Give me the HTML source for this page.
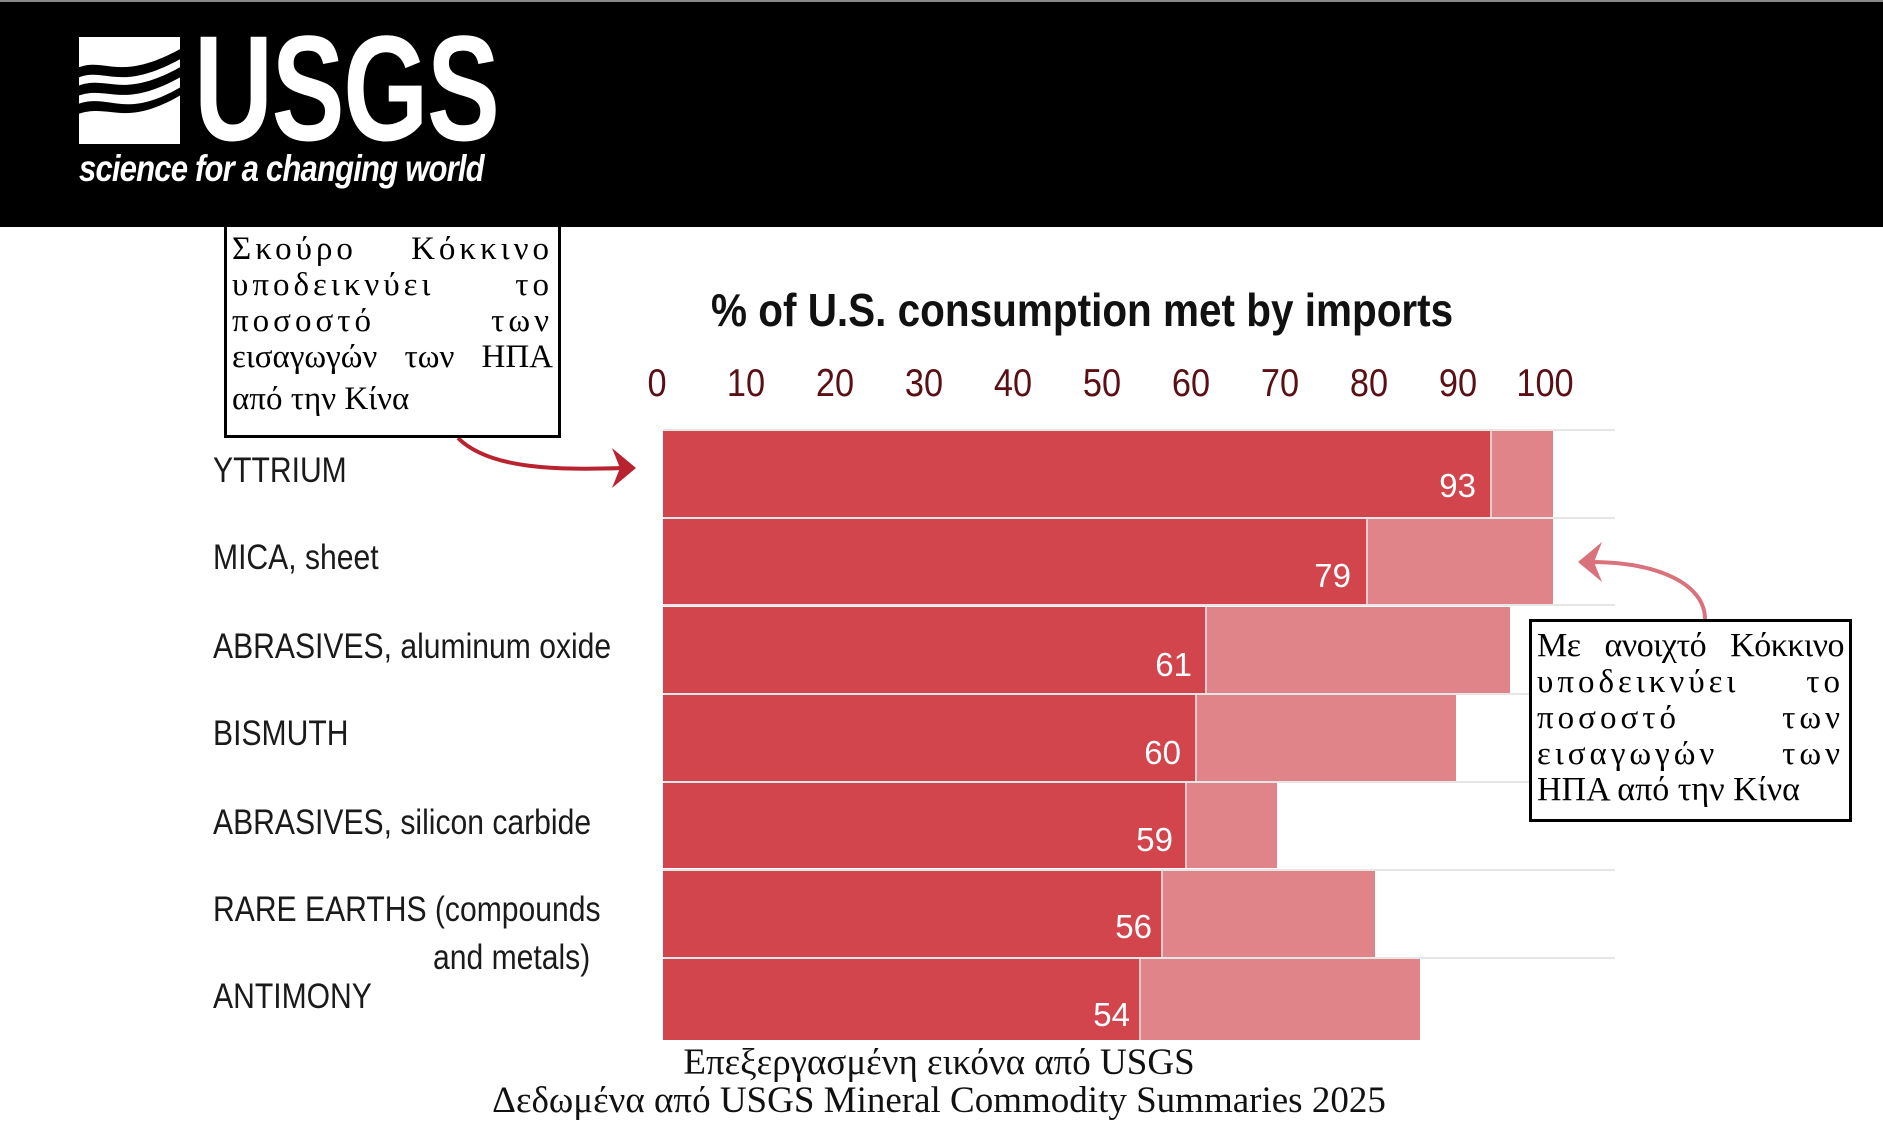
<!DOCTYPE html>
<html><head><meta charset="utf-8"><style>
*{margin:0;padding:0;box-sizing:border-box}
body{width:1883px;height:1125px;background:#fff;position:relative;overflow:hidden;font-family:"Liberation Sans",sans-serif}
.abs{position:absolute}
.sx{display:inline-block;transform-origin:0 0;white-space:nowrap}
.box{position:absolute;border:3px solid #000;background:#fff;font-family:"Liberation Serif","DejaVu Serif",serif;color:#000;font-size:33px;line-height:36px;text-align:justify;padding:2px 5px}
.tick{position:absolute;top:362px;width:80px;margin-left:-40px;text-align:center;color:#5a0f14;font-size:39px;transform:scaleX(0.88)}
.cat{position:absolute;left:213px;font-size:35px;color:#1a1a1a;line-height:40px;transform:scaleX(0.86);transform-origin:0 0;white-space:nowrap}
.val{position:absolute;color:#fff;font-size:33px;text-align:right;width:80px}
</style></head><body>
<div class="abs" style="left:0;top:0;width:1883px;height:227px;background:#000"></div>
<div class="abs" style="left:0;top:0;width:1883px;height:2px;background:#888"></div>
<svg class="abs" style="left:79px;top:37px" width="101" height="107" viewBox="0 0 76 106" preserveAspectRatio="none">
<rect width="76" height="106" fill="#fff"/>
<path d="M0 30 C20 20 30 45 76 12 L76 22 C30 55 20 30 0 40Z M0 48 C22 38 32 62 76 30 L76 40 C32 72 22 48 0 58Z M0 66 C24 56 34 82 76 50 L76 58 C34 90 24 66 0 76Z" fill="#000"/>
</svg>
<div class="abs" style="left:194px;top:18px;font-size:150px;font-weight:bold;color:#fff;line-height:140px;letter-spacing:-2px"><span class="sx" style="transform:scaleX(0.73)">USGS</span></div>
<div class="abs" style="left:79px;top:148px;font-size:37px;font-weight:bold;font-style:italic;color:#fff;letter-spacing:-1px"><span class="sx" style="transform:scaleX(0.84)">science for a changing world</span></div>

<div class="abs" style="left:711px;top:283px;font-size:46px;font-weight:bold;color:#111"><span class="sx" style="transform:scaleX(0.88)">% of U.S. consumption met by imports</span></div>
<div class="tick" style="left:657px">0</div>
<div class="tick" style="left:746px">10</div>
<div class="tick" style="left:835px">20</div>
<div class="tick" style="left:924px">30</div>
<div class="tick" style="left:1013px">40</div>
<div class="tick" style="left:1102px">50</div>
<div class="tick" style="left:1191px">60</div>
<div class="tick" style="left:1280px">70</div>
<div class="tick" style="left:1369px">80</div>
<div class="tick" style="left:1458px">90</div>
<div class="tick" style="left:1545px">100</div>

<svg class="abs" style="left:0;top:0" width="1883" height="1125">
<g stroke="#e6e6e6" stroke-width="2">
<line x1="663" y1="430" x2="1615" y2="430"/><line x1="663" y1="518" x2="1615" y2="518"/><line x1="663" y1="605" x2="1615" y2="605"/><line x1="663" y1="694" x2="1615" y2="694"/><line x1="663" y1="782" x2="1615" y2="782"/><line x1="663" y1="870" x2="1615" y2="870"/><line x1="663" y1="958" x2="1615" y2="958"/>
</g>
<g fill="#e0848a">
<rect x="663" y="431" width="890" height="86"/>
<rect x="663" y="519" width="890" height="85"/>
<rect x="663" y="607" width="847" height="86"/>
<rect x="663" y="695" width="793" height="86"/>
<rect x="663" y="783" width="614" height="85"/>
<rect x="663" y="871" width="712" height="86"/>
<rect x="663" y="959" width="757" height="81"/>
</g>
<g fill="#d2454d">
<rect x="663" y="431" width="827" height="86"/>
<rect x="663" y="519" width="703" height="85"/>
<rect x="663" y="607" width="542" height="86"/>
<rect x="663" y="695" width="532" height="86"/>
<rect x="663" y="783" width="522" height="85"/>
<rect x="663" y="871" width="498" height="86"/>
<rect x="663" y="959" width="476" height="81"/>
</g>
<g stroke="#f2c9cb" stroke-width="2">
<line x1="1491" y1="431" x2="1491" y2="517"/><line x1="1367" y1="519" x2="1367" y2="604"/><line x1="1206" y1="607" x2="1206" y2="693"/><line x1="1196" y1="695" x2="1196" y2="781"/><line x1="1186" y1="783" x2="1186" y2="868"/><line x1="1162" y1="871" x2="1162" y2="957"/><line x1="1140" y1="959" x2="1140" y2="1040"/>
</g>
<path d="M458 438 C490 470 560 470 624 468" stroke="#b8232f" stroke-width="4" fill="none"/>
<path d="M636 468 L612 448 L620 468 L612 488Z" fill="#b8232f"/>
<path d="M1705 619 C1705 585 1660 562 1590 562" stroke="#d9727d" stroke-width="4" fill="none"/>
<path d="M1578 562 L1602 542 L1594 562 L1602 582Z" fill="#d9727d"/>
</svg>

<div class="val" style="left:1396px;top:467px">93</div>
<div class="val" style="left:1271px;top:557px">79</div>
<div class="val" style="left:1112px;top:646px">61</div>
<div class="val" style="left:1101px;top:734px">60</div>
<div class="val" style="left:1093px;top:821px">59</div>
<div class="val" style="left:1072px;top:908px">56</div>
<div class="val" style="left:1050px;top:996px">54</div>

<div class="cat" style="top:451px">YTTRIUM</div>
<div class="cat" style="top:538px">MICA, sheet</div>
<div class="cat" style="top:627px">ABRASIVES, aluminum oxide</div>
<div class="cat" style="top:714px">BISMUTH</div>
<div class="cat" style="top:803px">ABRASIVES, silicon carbide</div>
<div class="cat" style="top:890px">RARE EARTHS (compounds</div>
<div class="cat" style="top:938px;left:433px">and metals)</div>
<div class="cat" style="top:977px">ANTIMONY</div>

<div class="box" style="left:224px;top:227px;width:337px;height:211px;border-top:none;padding-top:4px">
<div style="letter-spacing:4px;text-align-last:justify">Σκούρο Κόκκινο</div>
<div style="letter-spacing:4px;text-align-last:justify">υποδεικνύει το</div>
<div style="letter-spacing:4px;text-align-last:justify">ποσοστό των</div>
<div style="text-align-last:justify">εισαγωγών των ΗΠΑ</div>
<div style="margin-top:6px">από την Κίνα</div>
</div>
<div class="box" style="left:1529px;top:619px;width:323px;height:203px;padding-top:6px">
<div style="text-align-last:justify;font-size:34px;letter-spacing:-0.5px">Με ανοιχτό Κόκκινο</div>
<div style="letter-spacing:4px;text-align-last:justify">υποδεικνύει το</div>
<div style="letter-spacing:4px;text-align-last:justify">ποσοστό των</div>
<div style="letter-spacing:4px;text-align-last:justify">εισαγωγών των</div>
<div style="font-size:34px">ΗΠΑ από την Κίνα</div>
</div>

<div class="abs" style="left:0;width:1878px;top:1044px;text-align:center;font-family:'Liberation Serif',serif;font-size:37px;line-height:38px;color:#111">Επεξεργασμένη εικόνα από USGS<br>Δεδωμένα από USGS Mineral Commodity Summaries 2025</div>
</body></html>
